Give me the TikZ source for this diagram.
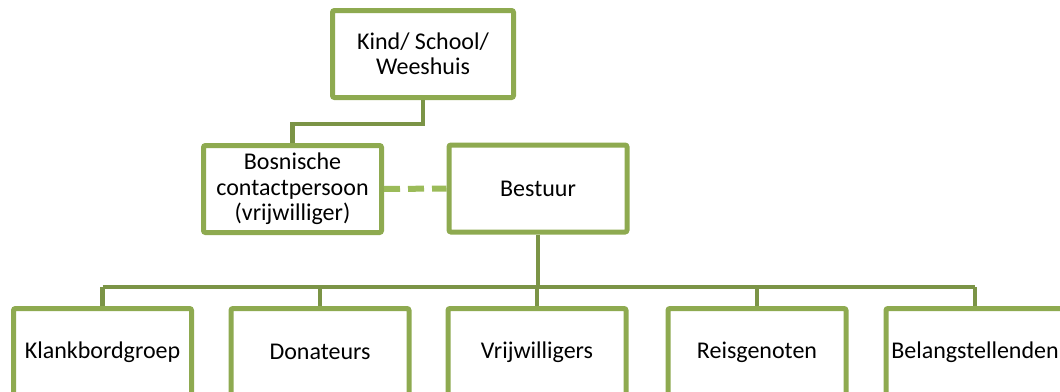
\documentclass[tikz,border=0pt]{standalone}
\usepackage{fontspec}
\setmainfont{Carlito}
\usetikzlibrary{calc}
\definecolor{boxgreen}{HTML}{8EAA50}
\definecolor{linegreen}{HTML}{7B9446}
\definecolor{dashgreen}{HTML}{9BBB59}
\tikzset{
  orgbox/.style={draw=boxgreen, line width=5pt, fill=white, rounded corners=2pt,
    minimum width=178pt, minimum height=87pt, inner sep=0pt, align=center,
    font=\fontsize{24pt}{25.5pt}\selectfont, text=black},
  conn/.style={draw=linegreen, line width=4.5pt},
  dashconn/.style={draw=dashgreen, line width=6pt, dash pattern=on 16pt off 8pt}
}
\begin{document}
\begin{tikzpicture}[x=1pt,y=-1pt]
\useasboundingbox (0,0) rectangle (1060,391);
\clip (0,0) rectangle (1060,391);
\coordinate (j1) at (0,124);
\coordinate (bus) at (0,287);
\node[orgbox, minimum width=181pt] (top) at (423,54) {Kind/ School/\\Weeshuis};
\node[orgbox] (bos) at (292.5,189) {Bosnische\\contactpersoon\\(vrijwilliger)};
\node[orgbox] (bes) at (538,188.5) {Bestuur};
\node[orgbox] (b1) at (102.5,352) {Klankbordgroep};
\node[orgbox] (b2) at (320,352) {Donateurs};
\node[orgbox] (b3) at (537,352) {Vrijwilligers};
\node[orgbox] (b4) at (757,352) {Reisgenoten};
\node[orgbox] (b5) at (975,352) {Belangstellenden};
\draw[conn] (top.south) -- (top.south |- j1) -| (bos.north);
\draw[dashconn] (bos.east) -- (bes.west);
\draw[conn] (bes.south) -- (bes.south |- bus);
\draw[conn] (b1.north |- bus) -- (b5.north |- bus);
\foreach \b in {b1,b2,b3,b4,b5}{
  \draw[conn] (\b.north |- bus) -- (\b.north);
}
\end{tikzpicture}
\end{document}
